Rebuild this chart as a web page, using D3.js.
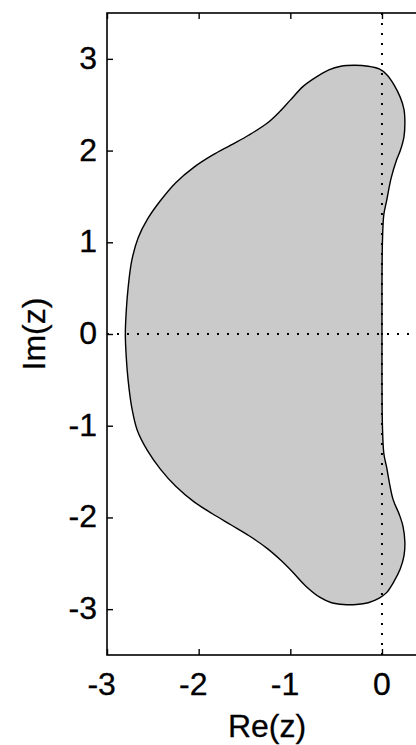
<!DOCTYPE html>
<html>
<head>
<meta charset="utf-8">
<script src="https://cdn.jsdelivr.net/npm/d3@7"></script>
<style>
  body { margin: 0; background: #fff; }
  svg { display: block; }
  text { font-family: "Liberation Sans", Arial, sans-serif; fill: #000; stroke: #000; stroke-width: 0.3px; }
</style>
</head>
<body>
<svg class="chart"></svg>
<script>
// boundary of the region (Re, Im pairs)
let boundaryRe = [0.00, 0.00, 0.005, 0.02, 0.05, 0.10, 0.16, 0.20, 0.24, 0.25, 0.24, 0.20, 0.13, 0.05, -0.03,
  -0.15, -0.30, -0.45, -0.58, -0.72, -0.86, -1.00, -1.12, -1.25, -1.45, -1.65, -1.85, -2.05, -2.25, -2.42,
  -2.56, -2.66, -2.73, -2.77, -2.79, -2.80,
  -2.79, -2.77, -2.73, -2.67, -2.56, -2.42, -2.25, -2.05, -1.85, -1.65, -1.45, -1.25, -1.10, -0.97,
  -0.83, -0.68, -0.55, -0.42, -0.28, -0.15, -0.03, 0.05, 0.13, 0.20, 0.24, 0.25, 0.23, 0.19, 0.12,
  0.05, 0.02, 0.005, 0.00];
let boundaryIm = [0.00, 0.50, 1.00, 1.30, 1.45, 1.70, 1.90, 2.00, 2.15, 2.30, 2.45, 2.58, 2.72, 2.83, 2.89,
  2.92, 2.93, 2.92, 2.88, 2.80, 2.70, 2.55, 2.42, 2.30, 2.17, 2.06, 1.95, 1.82, 1.65, 1.45,
  1.25, 1.05, 0.80, 0.50, 0.25, 0.00,
  -0.25, -0.50, -0.80, -1.05, -1.27, -1.47, -1.66, -1.83, -1.96, -2.08, -2.20, -2.34, -2.47, -2.60,
  -2.75, -2.87, -2.93, -2.95, -2.95, -2.93, -2.88, -2.82, -2.70, -2.56, -2.42, -2.27, -2.10, -1.97, -1.80,
  -1.45, -1.30, -1.00, -0.50];

let xTicks = [-3, -2, -1, 0];
let yTicks = [-3, -2, -1, 0, 1, 2, 3];

let width = 416;
let height = 745;

let svg = d3.select(".chart")
  .attr("width", width)
  .attr("height", height);

// right edge of the axes falls just outside the window
let x = d3.scaleLinear().domain([-3, 0.5]).range([107, 427.8]);
let y = d3.scaleLinear().domain([-3.5, 3.5]).range([655, 13]);

let points = boundaryRe.map(function(re, i) {
  return [re, boundaryIm[i]];
});

let line = d3.line()
  .x(function(d) { return x(d[0]); })
  .y(function(d) { return y(d[1]); })
  .curve(d3.curveCatmullRomClosed);

svg.append("path")
  .attr("d", line(points))
  .attr("fill", "#cacaca")
  .attr("stroke", "#000")
  .attr("stroke-width", 1.4);

// dotted zero lines
svg.append("line")
  .attr("x1", x(-3)).attr("x2", width)
  .attr("y1", y(0)).attr("y2", y(0))
  .attr("stroke", "#000")
  .attr("stroke-width", 2)
  .attr("stroke-dasharray", "2,8");

svg.append("line")
  .attr("x1", x(0)).attr("x2", x(0))
  .attr("y1", y(3.5)).attr("y2", y(-3.5))
  .attr("stroke", "#000")
  .attr("stroke-width", 2)
  .attr("stroke-dasharray", "2,8");

// axes box
svg.append("rect")
  .attr("x", x(-3))
  .attr("y", y(3.5))
  .attr("width", x(0.5) - x(-3))
  .attr("height", y(-3.5) - y(3.5))
  .attr("fill", "none")
  .attr("stroke", "#000")
  .attr("stroke-width", 1.6);

// inward ticks
let tickLen = 6;
let bottomAxis = svg.append("g")
  .attr("transform", "translate(0," + y(-3.5) + ")")
  .call(d3.axisBottom(x).tickValues(xTicks).tickSizeInner(-tickLen).tickSizeOuter(0).tickFormat(""));
let topAxis = svg.append("g")
  .attr("transform", "translate(0," + y(3.5) + ")")
  .call(d3.axisTop(x).tickValues(xTicks).tickSizeInner(-tickLen).tickSizeOuter(0).tickFormat(""));
let leftAxis = svg.append("g")
  .attr("transform", "translate(" + x(-3) + ",0)")
  .call(d3.axisLeft(y).tickValues(yTicks).tickSizeInner(-tickLen).tickSizeOuter(0).tickFormat(""));

[bottomAxis, topAxis, leftAxis].forEach(function(g) {
  g.select(".domain").remove();
  g.selectAll("line").attr("stroke", "#000").attr("stroke-width", 1.4);
});

// tick labels: digit centred on the tick, minus sign hangs to the left
let fontSize = 32;
let fmt = function(d) { return d < 0 ? "-" + Math.abs(d) : String(d); };

svg.selectAll(".xlab")
  .data(xTicks)
  .enter().append("text")
  .attr("class", "xlab")
  .attr("x", function(d) { return x(d) + 8.9; })
  .attr("y", 695)
  .attr("text-anchor", "end")
  .style("font-size", fontSize + "px")
  .text(fmt);

svg.selectAll(".ylab")
  .data(yTicks)
  .enter().append("text")
  .attr("class", "ylab")
  .attr("x", 97)
  .attr("y", function(d) { return y(d) + 10; })
  .attr("text-anchor", "end")
  .style("font-size", fontSize + "px")
  .text(fmt);

// axis titles
svg.append("text")
  .attr("x", 267)
  .attr("y", 737)
  .attr("text-anchor", "middle")
  .style("font-size", fontSize + "px")
  .text("Re(z)");

svg.append("text")
  .attr("transform", "translate(45," + 334 + ") rotate(-90)")
  .attr("text-anchor", "middle")
  .style("font-size", fontSize + "px")
  .text("Im(z)");
</script>
</body>
</html>
